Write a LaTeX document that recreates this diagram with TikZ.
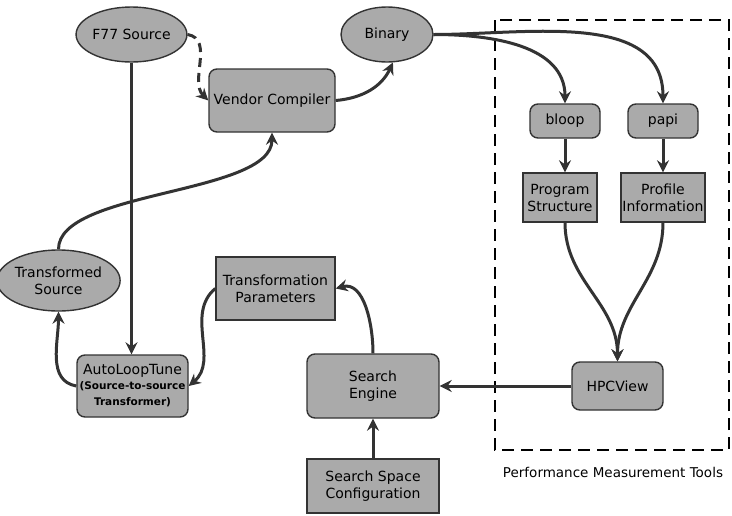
\documentclass[tikz,border=0pt]{standalone}
\usepackage{fontspec}
\setmainfont{DejaVu Sans}
\usetikzlibrary{arrows.meta,shapes.geometric}
\definecolor{boxfill}{HTML}{AAAAAA}
\definecolor{ink}{HTML}{333333}
\tikzset{
  base/.style={draw=ink,line width=1.4pt,fill=boxfill,font=\fontsize{14}{17}\selectfont,align=center,inner sep=0pt},
  rbox/.style={base,rectangle,rounded corners=8pt},
  sbox/.style={base,rectangle},
  ell/.style={base,ellipse},
  arr/.style={draw=ink,line width=3pt,-{Stealth[length=12pt,width=12pt,inset=4pt]}},
}
\begin{document}
\begin{tikzpicture}[x=1pt,y=-1pt]
\useasboundingbox (0,0) rectangle (732,515);
\node[ell,minimum width=83pt,minimum height=55pt] (f77) at (131.5,34.5) {F77 Source};
\node[ell,minimum width=92pt,minimum height=55pt] (bin) at (387,34.5) {Binary};
\node[rbox,minimum width=126pt,minimum height=63pt] (vc) at (272,100.5) {Vendor Compiler};
\node[rbox,minimum width=70pt,minimum height=34pt] (bloop) at (565,121) {bloop};
\node[rbox,minimum width=70pt,minimum height=34pt] (papi) at (663,121) {papi};
\node[sbox,minimum width=74pt,minimum height=49pt] (ps) at (560,197.5) {Program\\Structure};
\node[sbox,minimum width=84pt,minimum height=49pt] (pi) at (663,197.5) {Profile\\Information};
\node[rbox,minimum width=91pt,minimum height=48pt] (hpc) at (617.5,386) {HPCView};
\node[rbox,minimum width=132pt,minimum height=64pt] (se) at (373,386) {Search\\Engine};
\node[sbox,minimum width=132pt,minimum height=54pt] (ssc) at (373,486) {Search Space\\Configuration};
\node[ell,minimum width=107pt,minimum height=61pt] (ts) at (58.5,280.5) {Transformed\\Source};
\node[sbox,minimum width=119pt,minimum height=63pt] (tp) at (275.5,288.5) {Transformation\\Parameters};
\node[rbox,minimum width=111pt,minimum height=62pt] (alt) at (132.5,386) {AutoLoopTune\\[-2pt]{\fontsize{10.5}{12}\selectfont\bfseries (Source-to-source}\\[-1pt]{\fontsize{10.5}{12}\selectfont\bfseries Transformer)}};
\draw[black,line width=2.5pt,dash pattern=on 12pt off 7pt] (495,20) rectangle (729,450);
\node[font=\fontsize{13.5}{16}\selectfont,inner sep=0pt] (pmt) at (613,472) {Performance Measurement Tools};
% connectors
\draw[arr] (f77.south) -- (f77.south |- alt.north);
\draw[arr,dash pattern=on 9pt off 6pt] (f77.east) to[out=-10,in=135] (vc.west);
\draw[arr] (vc.east) to[out=5,in=-115] (bin.-78);
\draw[arr] (ts.north) .. controls (58,190) and (272,195) .. (vc.south);
\draw[arr] (alt.west) to[out=170,in=-90] (ts.south);
\draw[arr] (tp.west) to[out=-140,in=40] (alt.east);
\draw[arr] (se.north) to[out=90,in=15] (tp.east);
\draw[arr] (ssc.north) -- (se.south);
\draw[arr] (hpc.west) -- (se.east);
\draw[arr] (bin.east) to[out=0,in=90] (bloop.north);
\draw[arr] (bin.east) to[out=0,in=90] (papi.north);
\draw[arr] (bloop.south) -- (bloop.south |- ps.north);
\draw[arr] (papi.south) -- (pi.north);
\draw[arr] (bloop.south |- ps.south) to[out=-90,in=90] (hpc.north);
\draw[arr] (pi.south) to[out=-90,in=90] (hpc.north);
\end{tikzpicture}
\end{document}
